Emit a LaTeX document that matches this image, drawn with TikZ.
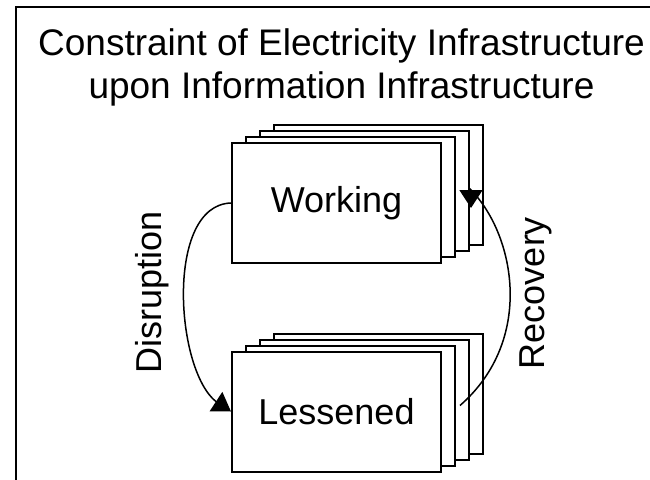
\documentclass[tikz,border=0pt]{standalone}
\usepackage{fontspec}
\setmainfont{Liberation Sans}
\usetikzlibrary{arrows.meta}
\tikzset{
  card/.style={draw=black, line width=1pt, fill=white, minimum width=104.5pt, minimum height=60pt, inner sep=0pt, font=\fontsize{18}{21}\selectfont},
  flow/.style={line width=0.75pt, -{Triangle[width=11.5pt,length=9pt]}},
  sidelabel/.style={rotate=90, anchor=base, inner sep=0pt, font=\fontsize{18}{21}\selectfont},
  titletext/.style={anchor=base, inner sep=0pt, font=\fontsize{18.5}{22}\selectfont},
  frame/.style={draw=black, line width=1pt}
}
\begin{document}
\begin{tikzpicture}[x=0.5pt,y=-0.5pt]
\useasboundingbox (0,0) rectangle (650,479);
\clip (0,0) rectangle (650,479);
\draw[frame] (16.5,500) -- (16.5,7) -- (670,7);
\node[titletext] (title1) at (341.5,55) {Constraint of Electricity Infrastructure};
\node[titletext] (title2) at (341.5,98) {upon Information Infrastructure};
% Working stack
\node[card] (W4) at (378.5,185) {};
\node[card] (W3) at (364.5,191) {};
\node[card] (W2) at (350.5,197) {};
\node[card] (W) at (336.5,203) {Working};
% Lessened stack
\node[card] (L4) at (378.5,393.5) {};
\node[card] (L3) at (364.5,399.5) {};
\node[card] (L2) at (350.5,405.5) {};
\node[card] (L) at (336.5,411.5) {Lessened};
% connectors
\coordinate (dbase) at (216.5,402);
\coordinate (rbase) at (471,190);
\coordinate (rtip) at (471,208);
\draw[flow] (W.west) .. controls (165,205) and (175,370) .. (dbase) -- (L.west);
\draw[flow] ([xshift=2pt]L2.east) .. controls (535,340) and (515,235) .. (rbase) -- (rtip);
\node[sidelabel] (disr) at (162,292.5) {Disruption};
\node[sidelabel] (reco) at (545,293) {Recovery};
\end{tikzpicture}
\end{document}
